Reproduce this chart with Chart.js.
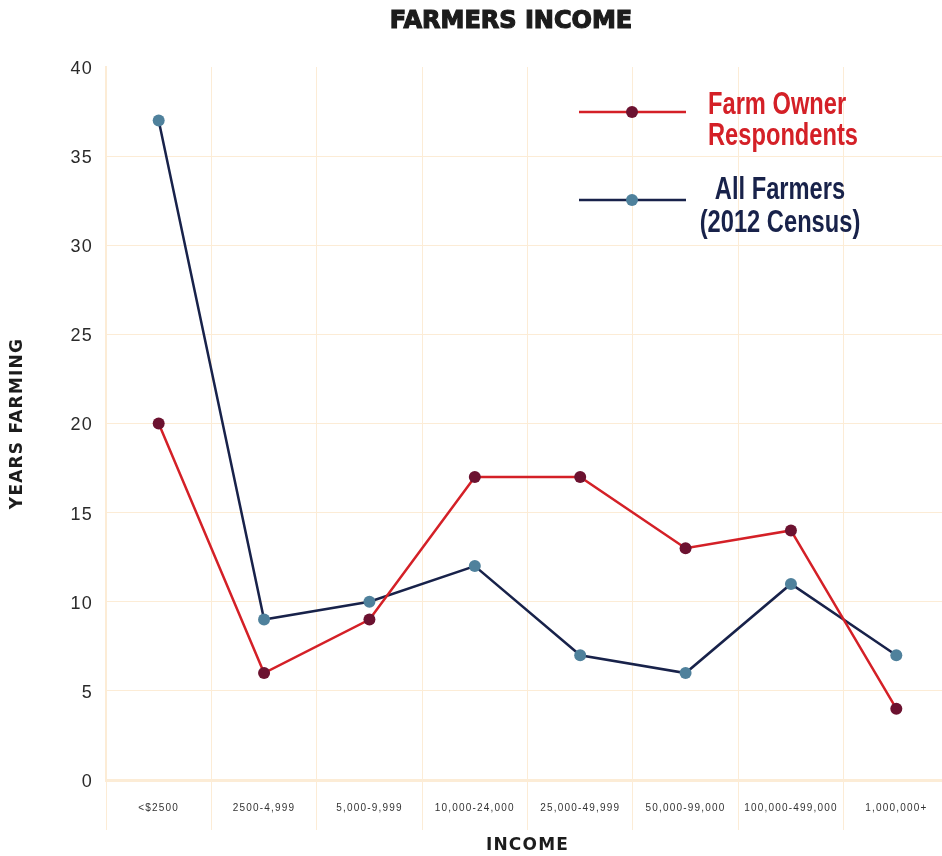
<!DOCTYPE html>
<html>
<head>
<meta charset="utf-8">
<script src="https://cdn.jsdelivr.net/npm/chart.js@4.4.1/dist/chart.umd.min.js"></script>
<style>
html,body{margin:0;padding:0;background:#fff;overflow:hidden;}
#wrap{width:942px;height:856px;position:relative;overflow:hidden;}
canvas{display:block;}
</style>
</head>
<body>
<div id="wrap"><canvas id="c" width="949" height="856"></canvas></div>
<script>
const categories = ["<$2500","2500-4,999","5,000-9,999","10,000-24,000","25,000-49,999","50,000-99,000","100,000-499,000","1,000,000+"];
const farmOwnerRespondents = [20, 6, 9, 17, 17, 13, 14, 4];
const allFarmers2012 = [37, 9, 10, 12, 7, 6, 11, 7];
const yTicks = [0, 5, 10, 15, 20, 25, 30, 35, 40];
const seriesNames = [["Farm Owner","Respondents"],["All Farmers","(2012 Census)"]];
const chartTitle = "FARMERS INCOME";
const xTitle = "INCOME";
const yTitle = "YEARS FARMING";

const RED = "#d42027", RED_PT = "#6c1230";
const NAVY = "#18224a", NAVY_PT = "#4f819c";
const GRID = "#fcecd6";

const spacingPlugin = {
  id: 'spacing',
  beforeDraw(chart){ chart.ctx.letterSpacing = '1.2px'; }
};

function condensedText(ctx, txt, x, y, align, sx){
  const w = ctx.measureText(txt).width * sx;
  let left = x;
  if (align === 'center') left = x - w/2;
  ctx.save();
  ctx.translate(left, y);
  ctx.scale(sx, 1);
  ctx.textAlign = 'left';
  ctx.fillText(txt, 0, 0);
  ctx.restore();
}

const decorPlugin = {
  id: 'decor',
  afterDraw(chart){
    const ctx = chart.ctx;
    ctx.save();
    ctx.letterSpacing = '0px';
    // title
    ctx.fillStyle = '#1c1c1c';
    ctx.strokeStyle = '#1c1c1c';
    ctx.lineWidth = 1.2;
    ctx.font = 'bold 24px "DejaVu Sans", sans-serif';
    ctx.textAlign = 'center';
    ctx.textBaseline = 'middle';
    ctx.fillText(chartTitle, 511, 22);
    ctx.strokeText(chartTitle, 511, 22);
    // legend
    const items = [
      {y:112, line:RED, pt:RED_PT, txt:seriesNames[0], col:RED, align:'left', tx:708, base:[114,145]},
      {y:200, line:NAVY, pt:NAVY_PT, txt:seriesNames[1], col:NAVY, align:'center', tx:780, base:[199,232]}
    ];
    ctx.font = 'bold 31px "Liberation Sans", sans-serif';
    const sx = 150 / ctx.measureText("Respondents").width;
    items.forEach(it=>{
      ctx.strokeStyle = it.line; ctx.lineWidth = 2.5;
      ctx.beginPath(); ctx.moveTo(579, it.y); ctx.lineTo(686, it.y); ctx.stroke();
      ctx.fillStyle = it.pt;
      ctx.beginPath(); ctx.arc(632, it.y, 6, 0, Math.PI*2); ctx.fill();
      ctx.fillStyle = it.col;
      ctx.textBaseline = 'alphabetic';
      condensedText(ctx, it.txt[0], it.tx, it.base[0], it.align, sx);
      condensedText(ctx, it.txt[1], it.tx, it.base[1], it.align, sx);
    });
    ctx.restore();
  }
};

new Chart(document.getElementById('c'), {
  type: 'line',
  data: {
    labels: categories,
    datasets: [
      {label: seriesNames[0].join(' '), data: farmOwnerRespondents, borderColor: RED, backgroundColor: RED_PT,
       pointBackgroundColor: RED_PT, pointBorderWidth: 0, pointRadius: 6, borderWidth: 2.5, tension: 0},
      {label: seriesNames[1].join(' '), data: allFarmers2012, borderColor: NAVY, backgroundColor: NAVY_PT,
       pointBackgroundColor: NAVY_PT, pointBorderWidth: 0, pointRadius: 6, borderWidth: 2.5, tension: 0}
    ]
  },
  options: {
    responsive: false,
    animation: false,
    layout: {autoPadding: false, padding: {top: 67, left: 0, right: 0, bottom: 0}},
    plugins: {legend: {display: false}, title: {display: false}, tooltip: {enabled: false}},
    scales: {
      x: {
        offset: true,
        grid: {offset: true, color: GRID, lineWidth: 1, drawTicks: true, tickLength: 50, tickColor: GRID},
        border: {color: GRID, width: 3},
        ticks: {color: '#333', font: {family: '"Liberation Sans", sans-serif', size: 10}, padding: -28, maxRotation: 0, autoSkip: false},
        title: {display: true, text: xTitle, color: '#1c1c1c', font: {family: '"DejaVu Sans", sans-serif', size: 17, weight: 'bold'}, padding: {top: 0, bottom: 0}},
        afterFit(scale){ scale.height = 76; scale.paddingLeft = 0; scale.paddingRight = 0; }
      },
      y: {
        min: 0, max: 40,
        afterBuildTicks(scale){ scale.ticks = yTicks.map(v=>({value:v})); },
        grid: {color: ctx => (ctx.tick && ctx.tick.value === 40) ? 'rgba(0,0,0,0)' : GRID, lineWidth: 1, drawTicks: false},
        border: {color: GRID, width: 2},
        ticks: {color: '#2a2a2a', font: {family: '"Liberation Sans", sans-serif', size: 18}, padding: 13, labelOffset: 2},
        title: {display: true, text: yTitle, color: '#1c1c1c', font: {family: '"DejaVu Sans", sans-serif', size: 17, weight: 'bold'}, padding: {top: 7, bottom: 0}},
        afterFit(scale){ scale.width = 106; scale.paddingTop = 0; scale.paddingBottom = 0; }
      }
    }
  },
  plugins: [spacingPlugin, decorPlugin]
});
</script>
</body>
</html>
